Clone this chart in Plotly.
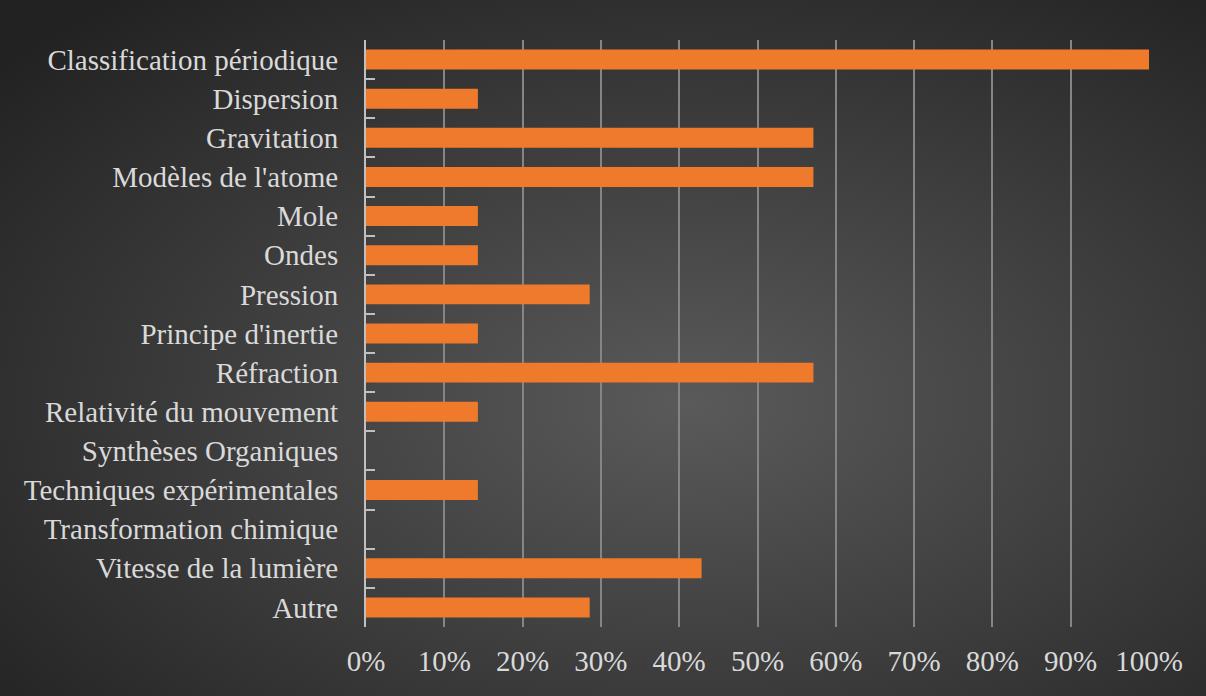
import base64
import plotly.graph_objects as go

categories = [
    "Classification périodique", "Dispersion", "Gravitation", "Modèles de l'atome",
    "Mole", "Ondes", "Pression", "Principe d'inertie", "Réfraction",
    "Relativité du mouvement", "Synthèses Organiques", "Techniques expérimentales",
    "Transformation chimique", "Vitesse de la lumière", "Autre",
]
values = [1.0, 0.1429, 0.5714, 0.5714, 0.1429, 0.1429, 0.2857, 0.1429, 0.5714,
          0.1429, 0.0, 0.1429, 0.0, 0.4286, 0.2857]
tick_vals = [0, 0.1, 0.2, 0.3, 0.4, 0.5, 0.6, 0.7, 0.8, 0.9, 1.0]
tick_text = ["0%", "10%", "20%", "30%", "40%", "50%", "60%", "70%", "80%", "90%", "100%"]

W, H = 1206, 696
ML, MR, MT, MB = 366, 57, 40, 69
svg = f'''<svg xmlns="http://www.w3.org/2000/svg" width="{W}" height="{H}" viewBox="0 0 {W} {H}" preserveAspectRatio="none">
<defs><radialGradient id="g" cx="0.57" cy="0.58" r="0.75">
<stop offset="0" stop-color="#5a5a5a"/><stop offset="1" stop-color="#222222"/>
</radialGradient></defs>
<rect width="{W}" height="{H}" fill="url(#g)"/></svg>'''
bg_uri = "data:image/svg+xml;base64," + base64.b64encode(svg.encode()).decode()

fig = go.Figure(go.Bar(
    x=values, y=categories, orientation="h",
    marker=dict(color="#f07a2c", line=dict(width=0)),
    hoverinfo="x+y",
))

font = dict(family="Liberation Serif", size=29, color="#d9d9d9")
pw, ph = W - ML - MR, H - MT - MB
fig.update_layout(
    width=W, height=H,
    margin=dict(l=ML, r=MR, t=MT, b=MB),
    paper_bgcolor="#333333", plot_bgcolor="rgba(0,0,0,0)",
    font=font, bargap=0.49, showlegend=False,
    images=[dict(source=bg_uri, xref="paper", yref="paper",
                 x=-ML / pw, y=1 + MT / ph, sizex=W / pw, sizey=H / ph,
                 xanchor="left", yanchor="top", sizing="stretch", layer="below")],
    xaxis=dict(range=[0, 1.0], tickvals=tick_vals, ticktext=tick_text,
               showgrid=True, gridcolor="#858585", gridwidth=1.8,
               zeroline=False, showline=False, ticks="", ticklabelstandoff=14,
               tickfont=font, fixedrange=True),
    yaxis=dict(autorange="reversed", showline=True, linecolor="#c0c0c0", linewidth=2,
               ticks="inside", tickson="boundaries", ticklen=9, tickcolor="#c0c0c0",
               tickwidth=1.8, showgrid=False, tickfont=font, ticklabelstandoff=20,
               fixedrange=True),
)
fig.write_html("out.html", config={"displayModeBar": False},
               post_script="document.body.style.margin='0';document.body.style.overflow='hidden';")
